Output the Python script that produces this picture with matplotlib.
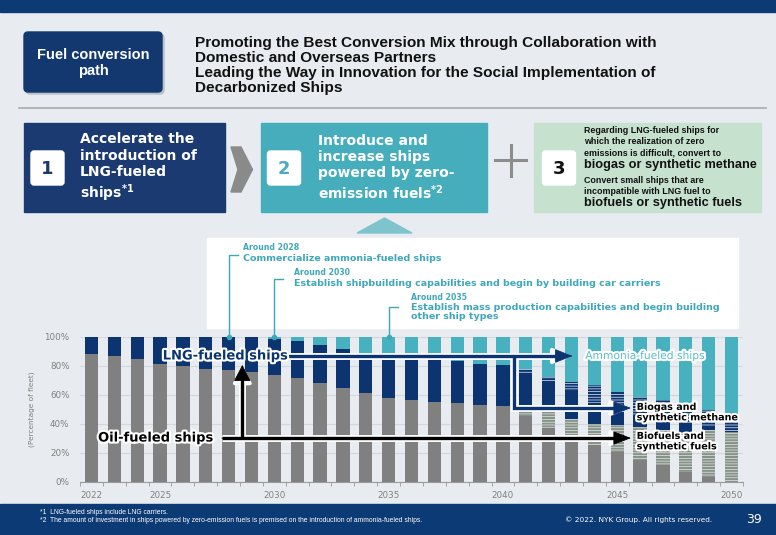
import numpy as np
import matplotlib.pyplot as plt
import matplotlib.patheffects as pe
from matplotlib.patches import Rectangle, FancyBboxPatch, Polygon
from matplotlib import transforms

plt.rcParams['font.family'] = 'DejaVu Sans'
plt.rcParams['hatch.linewidth'] = 1.5
plt.rcParams['mathtext.fontset'] = 'custom'
plt.rcParams['mathtext.bf'] = 'DejaVu Sans:bold'

# Share of fleet (%) by fuel type
years = list(range(2022, 2051))
oil = [88, 86.5, 84.5, 81, 79.5, 77.5, 77, 76, 73.5, 71.5, 67.8, 64.5, 61, 57.7, 56.3,
       55.2, 54, 52.9, 52.4, 45.3, 37, 29, 25, 20.7, 15, 11.5, 6.9, 3.4, 0]
biofuel = [0] * 19 + [3, 11, 14.5, 15, 18.4, 23, 24, 27.6, 32, 34.5]
lng = [12, 13.5, 15.5, 19, 20.5, 22.5, 23, 24, 25, 25.5, 26.5, 27, 27, 29.3, 29.7,
       29.3, 29, 28.1, 28.1, 26.4, 20, 19, 14.5, 8, 7, 5.7, 5.7, 2, 0]
biogas = [0] * 19 + [2.8, 4.4, 6.5, 12, 15, 13.6, 15, 13.8, 12, 9.5]
ammonia = [0, 0, 0, 0, 0, 0, 0, 0, 1.5, 3, 5.7, 8.5, 12, 13, 14, 15.5, 17, 19, 19.5,
           22.5, 27.6, 31, 33.5, 37.9, 41.4, 43.8, 46, 50.6, 56]

major_years = [2022, 2025, 2030, 2035, 2040, 2045, 2050]
yticks = [0, 20, 40, 60, 80, 100]

milestones = [(2028, 'Around 2028', 'Commercialize ammonia-fueled ships'),
              (2030, 'Around 2030', 'Establish shipbuilding capabilities and begin by building car carriers'),
              (2035, 'Around 2035', 'Establish mass production capabilities and begin building\nother ship types')]

NAVY = '#0b3470'
BAND = '#0c3a74'
TEAL = '#47b1c0'
GRAY = '#808080'
BG = '#e8ecf0'
ANNOT = '#3ea7b9'

fig = plt.figure(figsize=(7.76, 5.35), dpi=100)
fig.patch.set_facecolor(BG)

# background layer in pixel coordinates
bg = fig.add_axes([0, 0, 1, 1])
bg.set_xlim(0, 776)
bg.set_ylim(535, 0)
bg.axis('off')

bg.add_patch(Rectangle((0, 0), 776, 12, color=BAND))
bg.add_patch(Rectangle((0, 504), 776, 31, color=BAND))

# header
bg.add_patch(FancyBboxPatch((26, 34), 138, 60, boxstyle='round,pad=0,rounding_size=4',
                            color='#b9c0c8', zorder=1))
bg.add_patch(FancyBboxPatch((24, 32), 138, 60, boxstyle='round,pad=0,rounding_size=4',
                            color='#12386f', zorder=2))
bg.text(93, 63, 'Fuel conversion\npath', color='white', fontsize=10.5, weight='bold',
        family='Liberation Sans', ha='center', va='center', linespacing=1.1, zorder=3)
bg.text(195, 65.5, 'Promoting the Best Conversion Mix through Collaboration with\n'
        'Domestic and Overseas Partners\n'
        'Leading the Way in Innovation for the Social Implementation of\n'
        'Decarbonized Ships', fontsize=11.1, weight='bold', family='Liberation Sans',
        ha='left', va='center', linespacing=1.1, color='#111111')
bg.plot([19, 766], [108, 108], color='#a9adb2', lw=1.2)

# three step boxes
bg.add_patch(Rectangle((24, 123), 201, 89, color='#1b3a72'))
bg.add_patch(Rectangle((261, 123), 226, 89, color='#45adbb'))
bg.add_patch(Rectangle((534, 123), 227, 89, color='#c7e1cf'))
for x0, num, col in [(31, '1', '#1b3a72'), (267.5, '2', '#45adbb'), (542.5, '3', '#111111')]:
    bg.add_patch(FancyBboxPatch((x0, 151), 33, 34, boxstyle='round,pad=0,rounding_size=3',
                                color='white'))
    bg.text(x0 + 16.5, 168.5, num, color=col, fontsize=13, weight='bold',
            ha='center', va='center')

bg.text(80, 168, 'Accelerate the\nintroduction of\nLNG-fueled\nships$^{\\mathbf{*1}}$',
        color='white', fontsize=10, weight='bold', ha='left', va='center', linespacing=1.2)
bg.text(318, 168, 'Introduce and\nincrease ships\npowered by zero-\nemission fuels$^{\\mathbf{*2}}$',
        color='white', fontsize=10, weight='bold', ha='left', va='center', linespacing=1.2)

box3_lines = [(130.7, 'Regarding LNG-fueled ships for', 6.4),
              (141.7, 'which the realization of zero', 6.4),
              (152.7, 'emissions is difficult, convert to', 6.4),
              (165.0, 'biogas or synthetic methane', 9.2),
              (180.7, 'Convert small ships that are', 6.4),
              (191.7, 'incompatible with LNG fuel to', 6.4),
              (203.3, 'biofuels or synthetic fuels', 9.2)]
for yy, s, fs in box3_lines:
    bg.text(584, yy, s, fontsize=fs, weight='bold', family='Liberation Sans',
            ha='left', va='center', color='#111111')

bg.add_patch(Polygon([(231, 147), (241, 147), (252.5, 169.5), (241, 192), (231, 192),
                      (238, 169.5)], color='#8a8a8a'))
bg.plot([495, 526], [160, 160], color='#8c8c8c', lw=2.2)
bg.plot([510.5, 510.5], [144.5, 175.5], color='#8c8c8c', lw=2.2)

bg.add_patch(Polygon([(357, 233), (412, 233), (384.5, 218)], color='#7fc4cc'))
bg.add_patch(Rectangle((207, 238), 531, 90, color='white'))

# milestone notes
note_pos = {2028: (243, 248), 2030: (294, 272.5), 2035: (411, 297)}
note_y = {2028: 255, 2030: 279, 2035: 307}
for yr, head, body in milestones:
    tx, ty = note_pos[yr]
    bg.text(tx, ty, head, color=ANNOT, fontsize=5.6, weight='bold', ha='left', va='center')
    bg.text(tx, ty + 6, body, color=ANNOT, fontsize=6.8, weight='bold', ha='left',
            va='top', linespacing=1.05)

# footer
bg.text(40, 512, '*1  LNG-fueled ships include LNG carriers.', color='white',
        fontsize=4.9, family='Liberation Sans', va='center')
bg.text(40, 520.5, '*2  The amount of investment in ships powered by zero-emission fuels is '
        'premised on the introduction of ammonia-fueled ships.', color='white',
        fontsize=4.9, family='Liberation Sans', va='center')
bg.text(565, 520, '\u00a9 2022. NYK Group. All rights reserved.', color='white',
        fontsize=5.3, va='center')
bg.text(762, 519.5, '39', color='white', fontsize=9, ha='right', va='center')

# chart
ax = fig.add_axes([80 / 776, (535 - 481.7) / 535, 663 / 776, 145 / 535])
ax.patch.set_visible(False)
ax.set_xlim(2021.52, 2050.48)
ax.set_ylim(0, 100)

bottom = np.zeros(len(years))
layers = [(oil, dict(color=GRAY)),
          (biofuel, dict(facecolor='#e2eae2', edgecolor='#87928a', hatch='------')),
          (lng, dict(color=NAVY)),
          (biogas, dict(facecolor='#eef2f7', edgecolor=NAVY, hatch='------')),
          (ammonia, dict(color=TEAL))]
for vals, style in layers:
    vals = np.array(vals, dtype=float)
    ax.bar(years, vals, 0.58, bottom=bottom, linewidth=0, zorder=2, **style)
    bottom += vals

for s in ['top', 'right', 'left']:
    ax.spines[s].set_visible(False)
ax.spines['bottom'].set_color('#9a9a9a')
ax.set_yticks(yticks)
ax.set_yticklabels([f'{v}%' for v in yticks])
ax.yaxis.grid(True, color='#d3d8de', lw=0.8, zorder=0)
ax.tick_params(axis='y', length=0, pad=7.5, labelsize=6.3, labelcolor='#7f7f7f')
ax.set_xticks(major_years)
ax.set_xticks(np.arange(years[0] - 0.5, years[-1] + 1), minor=True)
ax.tick_params(axis='x', which='major', length=0, pad=7, labelsize=6.3, labelcolor='#7f7f7f')
ax.tick_params(axis='x', which='minor', length=3, color='#9a9a9a')
ax.set_ylabel('(Percentage of fleet)', fontsize=5.3, color='#7f7f7f', labelpad=7)

# milestone leader lines
trans = transforms.blended_transform_factory(ax.transData, bg.transData)
for yr, _, _ in milestones:
    ax.plot([yr, yr, yr + 0.4], [337, note_y[yr], note_y[yr]], color=ANNOT, lw=1,
            transform=trans, clip_on=False, zorder=8)
    ax.plot([yr], [337], 'o', color=ANNOT, ms=3, transform=trans, clip_on=False, zorder=8)


def outlined_arrow(xs, ys, color, lw=2.4, hl=1.15, hw=0.45):
    head = f'-|>,head_length={hl},head_width={hw}'
    # stop the thick shaft halfway into the arrow head
    pts = ax.transData.transform(np.column_stack([xs, ys]))
    d = pts[-1] - pts[-2]
    d = d / np.hypot(*d)
    back = hl * 10 * 100 / 72 * 0.5
    pts[-1] = pts[-1] - d * back
    sx, sy = ax.transData.inverted().transform(pts).T
    for c, w, hlw, z in [('white', lw + 2.6, 2.6, 6), (color, lw, 0.6, 7)]:
        ax.plot(sx, sy, color=c, lw=w, zorder=z, clip_on=False,
                solid_capstyle='butt', solid_joinstyle='miter')
        ax.annotate('', xy=(xs[-1], ys[-1]), xytext=(xs[-2], ys[-2]), zorder=z,
                    annotation_clip=False,
                    arrowprops=dict(arrowstyle=head, color=c, lw=hlw, mutation_scale=10,
                                    shrinkA=0, shrinkB=0, joinstyle='round'))


outlined_arrow([2030.6, 2043.05], [86.7, 86.7], NAVY)
outlined_arrow([2040.47, 2040.47, 2045.6], [86.7, 50.8, 50.8], NAVY)
outlined_arrow([2027.7, 2045.6], [30.1, 30.1], 'black')
outlined_arrow([2028.6, 2028.6], [30.1, 80.5], 'black', hl=1.05, hw=0.55)

halo = [pe.withStroke(linewidth=3, foreground='white')]
ax.text(2027.85, 86.7, 'LNG-fueled ships', color=NAVY, fontsize=9.4, weight='bold',
        ha='center', va='center', path_effects=halo, zorder=9)
ax.text(2024.8, 30.1, 'Oil-fueled ships', color='black', fontsize=9.4, weight='bold',
        ha='center', va='center', path_effects=halo, zorder=9)
ax.text(2043.6, 86.7, 'Ammonia-fueled ships', color='#55bccb', fontsize=7.7,
        ha='left', va='center', path_effects=halo, zorder=9)
ax.text(2045.85, 48, 'Biogas and\nsynthetic methane', color='black', fontsize=6.9,
        weight='bold', ha='left', va='center', linespacing=1.05, path_effects=halo, zorder=9)
ax.text(2045.85, 28, 'Biofuels and\nsynthetic fuels', color='black', fontsize=6.9,
        weight='bold', ha='left', va='center', linespacing=1.05, path_effects=halo, zorder=9)

fig.savefig('out.png', dpi=100, facecolor=BG)
